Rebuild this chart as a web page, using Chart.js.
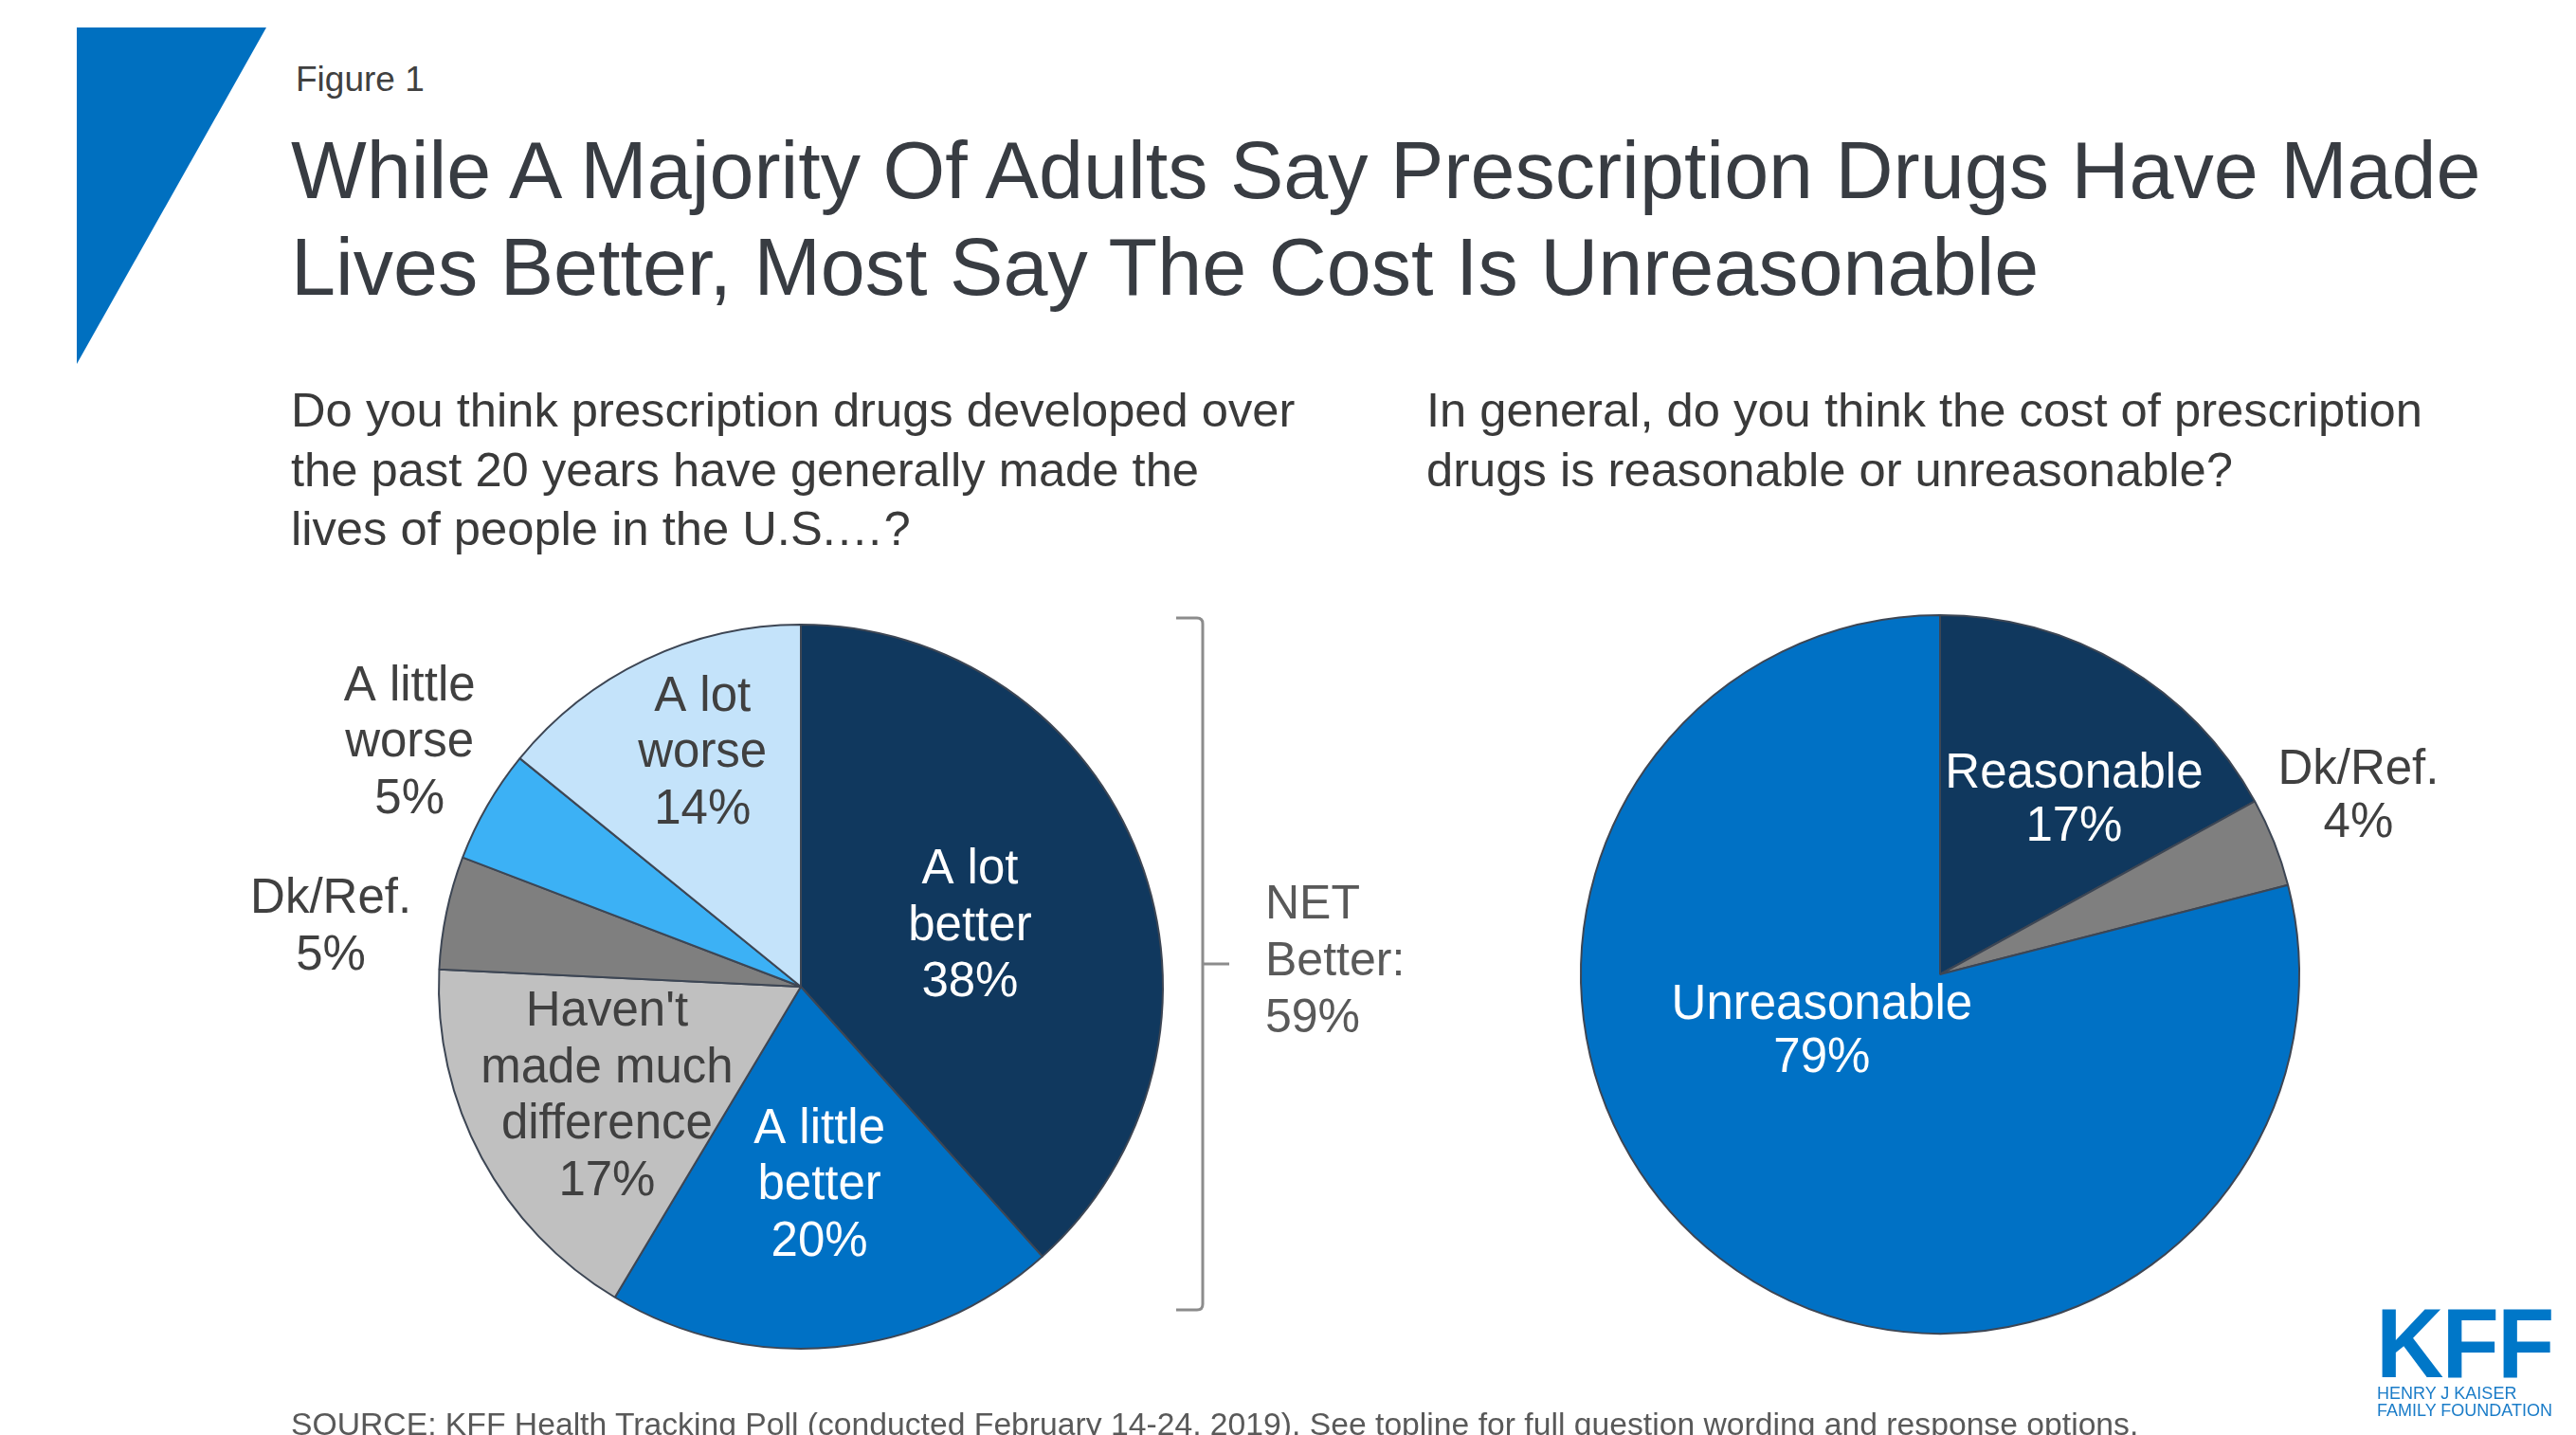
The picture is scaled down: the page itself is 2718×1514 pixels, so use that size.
<!DOCTYPE html>
<html>
<head>
<meta charset="utf-8">
<title>Prescription drugs - Figure 1</title>
<script src="https://cdn.jsdelivr.net/npm/chart.js@4.4.1/dist/chart.umd.min.js"></script>
<style>
  html, body { margin: 0; padding: 0; background: #fff; overflow: hidden; }
  #page { position: relative; width: 2718px; height: 1514px; font-family: "Liberation Sans", Arial, sans-serif; }
  .t { position: absolute; white-space: pre; margin: 0; }
  canvas { position: absolute; top: 0; }
  #corner { position: absolute; left: 0; top: 0; }
</style>
</head>
<body>
<div id="page">
  <svg id="corner" width="300" height="400"><polygon points="81,29 281,29 81,384" fill="#0070c0"/></svg>

  <div class="t" style="left:312px; top:62px; font-size:37px; line-height:44px; color:#404040;">Figure 1</div>
  <div class="t" style="left:307px; top:129px; font-size:84.5px; line-height:102px; color:#383c42;">While A Majority Of Adults Say Prescription Drugs Have Made
Lives Better, Most Say The Cost Is Unreasonable</div>

  <div class="t" style="left:307px; top:402px; font-size:50.7px; line-height:62.5px; color:#3a3a3a;">Do you think prescription drugs developed over
the past 20 years have generally made the
lives of people in the U.S.…?</div>
  <div class="t" style="left:1505px; top:402px; font-size:50.7px; line-height:62.5px; color:#3a3a3a;">In general, do you think the cost of prescription
drugs is reasonable or unreasonable?</div>

  <canvas id="lifeChart" width="1450" height="1514" style="left:0px;"></canvas>
  <canvas id="costChart" width="1268" height="1514" style="left:1450px;"></canvas>

  <div class="t" id="netLabel" style="left:1335px; top:922px; font-size:50px; line-height:60px; color:#595959;"></div>

  <div class="t" style="left:307px; top:1483px; font-size:33.7px; line-height:38px; color:#595959;">SOURCE: KFF Health Tracking Poll (conducted February 14-24, 2019). See topline for full question wording and response options.</div>

  <div class="t" style="left:2507px; top:1359px; font-size:104px; line-height:116px; font-weight:bold; color:#0077c8; transform:scaleX(0.95); transform-origin:left top; letter-spacing:-2px;">KFF</div>
  <div class="t" style="left:2508px; top:1461px; font-size:18px; line-height:18px; color:#1a7cc8;">HENRY J KAISER
FAMILY FOUNDATION</div>
</div>

<script>
// left pie: did drugs make lives better?
const lifeLabels = ["A lot\nbetter", "A little\nbetter", "Haven't\nmade much\ndifference", "Dk/Ref.", "A little\nworse", "A lot\nworse"];
const lifeValues = [38, 20, 17, 5, 5, 14];
const netBetter = 59;

// right pie: is the cost reasonable?
const costLabels = ["Reasonable", "Dk/Ref.", "Unreasonable"];
const costValues = [17, 4, 79];

const navy = "#10385e";
const blue = "#0071c5";

const sliceLabels = {
  id: "sliceLabels",
  afterDatasetsDraw(chart, args, opts) {
    const ctx = chart.ctx;
    const meta = chart.getDatasetMeta(0);
    const values = chart.data.datasets[0].data;
    ctx.save();
    ctx.font = '51px "Liberation Sans", Arial, sans-serif';
    ctx.textAlign = "center";
    ctx.textBaseline = "middle";
    meta.data.forEach((arc, i) => {
      const spot = opts.spots[i];
      // spot = [fraction of radius, optional angle in degrees clockwise from 12 o'clock]
      const a = spot[1] !== undefined ? (spot[1] - 90) * Math.PI / 180 : (arc.startAngle + arc.endAngle) / 2;
      const x = arc.x + Math.cos(a) * arc.outerRadius * spot[0];
      const y = arc.y + Math.sin(a) * arc.outerRadius * spot[0] + opts.dy;
      const lines = chart.data.labels[i].split("\n").concat(values[i] + "%");
      const top = y - (lines.length - 1) * opts.lineH / 2;
      ctx.fillStyle = opts.colors[i];
      lines.forEach((ln, k) => ctx.fillText(ln, x, top + k * opts.lineH));
    });
    ctx.restore();
  }
};

// bracket that groups the two "better" slices
const netBracket = {
  id: "netBracket",
  afterDraw(chart) {
    const ctx = chart.ctx;
    ctx.save();
    ctx.strokeStyle = "#8c8c8c";
    ctx.lineWidth = 3;
    ctx.lineJoin = "round";
    ctx.beginPath();
    ctx.moveTo(1241, 652);
    ctx.lineTo(1263, 652);
    ctx.quadraticCurveTo(1269, 652, 1269, 658);
    ctx.lineTo(1269, 1376);
    ctx.quadraticCurveTo(1269, 1382, 1263, 1382);
    ctx.lineTo(1241, 1382);
    ctx.moveTo(1269, 1017);
    ctx.lineTo(1297, 1017);
    ctx.stroke();
    ctx.restore();
  }
};

document.getElementById("netLabel").textContent = "NET\nBetter:\n" + netBetter + "%";

const lifeChart = new Chart(document.getElementById("lifeChart"), {
  type: "pie",
  data: {
    labels: lifeLabels,
    datasets: [{
      data: lifeValues,
      backgroundColor: [navy, blue, "#c0c0c0", "#7f7f7f", "#3cb1f5", "#c4e3fa"],
      borderColor: "#3d4654",
      borderWidth: 2
    }]
  },
  options: {
    responsive: false,
    animation: false,
    events: [],
    layout: { padding: { left: 462, top: 657, right: 222, bottom: 89 } },
    plugins: {
      legend: { display: false },
      tooltip: { enabled: false },
      sliceLabels: {
        lineH: 59.5,
        dy: 5,
        spots: [[0.5], [0.54], [0.61, 241.4], [1.31, 277.7], [1.28, 302.4], [0.71, 337.5]],
        colors: ["#ffffff", "#ffffff", "#404040", "#404040", "#404040", "#404040"]
      }
    }
  },
  plugins: [sliceLabels, netBracket]
});

const costChart = new Chart(document.getElementById("costChart"), {
  type: "pie",
  data: {
    labels: costLabels,
    datasets: [{
      data: costValues,
      backgroundColor: [navy, "#7f7f7f", blue],
      borderColor: "#3d4654",
      borderWidth: 2
    }]
  },
  options: {
    responsive: false,
    animation: false,
    events: [],
    layout: { padding: { left: 217, top: 647, right: 291, bottom: 105 } },
    plugins: {
      legend: { display: false },
      tooltip: { enabled: false },
      sliceLabels: {
        lineH: 56,
        dy: 5,
        spots: [[0.62, 37], [1.27, 66.5], [0.36, 246]],
        colors: ["#ffffff", "#404040", "#ffffff"]
      }
    }
  },
  plugins: [sliceLabels]
});
</script>
</body>
</html>
